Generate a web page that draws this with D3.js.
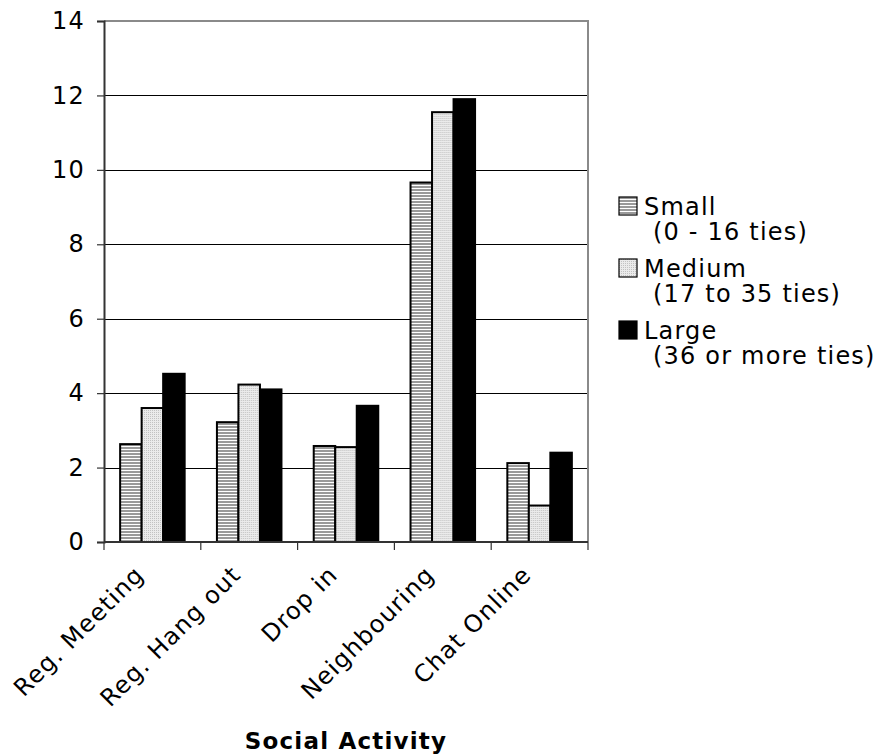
<!DOCTYPE html>
<html>
<head>
<meta charset="utf-8">
<script src="https://cdn.jsdelivr.net/npm/d3@7"></script>
<style>
  html, body { margin: 0; padding: 0; background: #fff; }
  svg { display: block; font-family: "DejaVu Sans", Verdana, sans-serif; }
  svg text { letter-spacing: 1.2px; }
</style>
</head>
<body>
<svg id="chart" width="876" height="755"></svg>
<script>
// Social activity by network size
const categories = ["Reg. Meeting", "Reg. Hang out", "Drop in", "Neighbouring", "Chat Online"];
const seriesNames = ["Small", "Medium", "Large"];
const seriesSubtitles = ["(0 - 16 ties)", "(17 to 35 ties)", "(36 or more ties)"];
const smallValues  = [2.63, 3.22, 2.58, 9.66, 2.12];
const mediumValues = [3.60, 4.23, 2.55, 11.55, 0.98];
const largeValues  = [4.52, 4.10, 3.66, 11.90, 2.40];
const yTicks = [0, 2, 4, 6, 8, 10, 12, 14];
const xTitle = "Social Activity";

const seriesValues = [smallValues, mediumValues, largeValues];

const svg = d3.select("#chart");
const plot = { left: 104, top: 21, right: 588, bottom: 542 };

// Fill patterns: horizontal stripes, fine stipple, solid black
const defs = svg.append("defs");
const stripes = defs.append("pattern")
  .attr("id", "fill-small").attr("patternUnits", "userSpaceOnUse")
  .attr("width", 4).attr("height", 3);
stripes.append("rect").attr("width", 4).attr("height", 3).attr("fill", "#ffffff");
stripes.append("rect").attr("y", 0).attr("width", 4).attr("height", 2).attr("fill", "#9a9a9a");

const stipple = defs.append("pattern")
  .attr("id", "fill-medium").attr("patternUnits", "userSpaceOnUse")
  .attr("width", 2).attr("height", 2);
stipple.append("rect").attr("width", 2).attr("height", 2).attr("fill", "#ebebeb");
stipple.append("rect").attr("x", 0).attr("y", 0).attr("width", 1).attr("height", 1).attr("fill", "#c2c2c2");

const fills = ["url(#fill-small)", "url(#fill-medium)", "#000000"];

const y = d3.scaleLinear().domain([0, 14]).range([plot.bottom, plot.top]);
const x0 = d3.scaleBand().domain(categories).range([plot.left, plot.right]).padding(0);
const bw = x0.bandwidth();
const x1 = d3.scaleBand().domain(seriesNames).range([bw / 6, bw * 5 / 6]).padding(0);

// Gridlines
svg.append("g")
  .selectAll("line")
  .data(yTicks.filter(t => t > 0 && t < 14))
  .join("line")
  .attr("x1", plot.left).attr("x2", plot.right)
  .attr("y1", d => Math.round(y(d)) + 0.5).attr("y2", d => Math.round(y(d)) + 0.5)
  .attr("stroke", "#000").attr("stroke-width", 1.2);

// Plot frame (top and right)
svg.append("path")
  .attr("d", `M${plot.left},${plot.top} H${plot.right} V${plot.bottom}`)
  .attr("fill", "none").attr("stroke", "#8a8a8a").attr("stroke-width", 2);

// Bars
const groups = svg.append("g")
  .selectAll("g")
  .data(categories)
  .join("g")
  .attr("transform", d => `translate(${x0(d)},0)`);

seriesNames.forEach((s, si) => {
  groups.append("rect")
    .attr("x", (d, i) => x1(s))
    .attr("y", (d, i) => y(seriesValues[si][i]))
    .attr("width", x1.bandwidth())
    .attr("height", (d, i) => y(0) - y(seriesValues[si][i]))
    .attr("fill", fills[si])
    .attr("stroke", "#000")
    .attr("stroke-width", 2);
});

// Y axis
const yAxis = d3.axisLeft(y).tickValues(yTicks).tickSize(7).tickPadding(12).tickFormat(d3.format("d"));
const gy = svg.append("g").attr("transform", `translate(${plot.left},0)`).call(yAxis);
gy.select(".domain").attr("stroke", "#333").attr("stroke-width", 2);
gy.selectAll(".tick line").attr("stroke", "#333").attr("stroke-width", 1.2);
gy.selectAll(".tick text").attr("font-size", 24).attr("fill", "#000").attr("font-family", "DejaVu Sans, Verdana, sans-serif");

// X axis with ticks at category boundaries
const xAxisG = svg.append("g");
xAxisG.append("line")
  .attr("x1", plot.left).attr("x2", plot.right)
  .attr("y1", plot.bottom).attr("y2", plot.bottom)
  .attr("stroke", "#333").attr("stroke-width", 2);
const boundaries = categories.map(c => x0(c)).concat([x0(categories[categories.length - 1]) + bw]);
xAxisG.selectAll("line.tick")
  .data(boundaries)
  .join("line")
  .attr("class", "tick")
  .attr("x1", d => d).attr("x2", d => d)
  .attr("y1", plot.bottom).attr("y2", plot.bottom + 8)
  .attr("stroke", "#333").attr("stroke-width", 1.2);

xAxisG.selectAll("text")
  .data(categories)
  .join("text")
  .attr("transform", d => `translate(${x0(d) + bw / 2 - 12},${plot.bottom + 29}) rotate(-45)`)
  .attr("text-anchor", "end")
  .attr("dy", "0.3em")
  .attr("font-size", 24)
  .attr("fill", "#000")
  .text(d => d);

// Axis title
svg.append("text")
  .attr("x", 346).attr("y", 749)
  .attr("text-anchor", "middle")
  .attr("font-size", 23)
  .attr("font-weight", "bold")
  .attr("fill", "#000")
  .text(xTitle);

// Legend
const legend = svg.append("g").attr("transform", "translate(619,0)");
const legendRowTop = [197, 259, 321];
seriesNames.forEach((s, i) => {
  const g = legend.append("g").attr("transform", `translate(0,${legendRowTop[i]})`);
  g.append("rect")
    .attr("x", 0).attr("y", 0).attr("width", 18).attr("height", 18)
    .attr("fill", fills[i]).attr("stroke", "#000").attr("stroke-width", 1.2);
  g.append("text").attr("x", 25).attr("y", 18).attr("font-size", 24).attr("fill", "#000").text(s);
  g.append("text").attr("x", 34).attr("y", 43).attr("font-size", 24).attr("fill", "#000").text(seriesSubtitles[i]);
});
</script>
</body>
</html>
